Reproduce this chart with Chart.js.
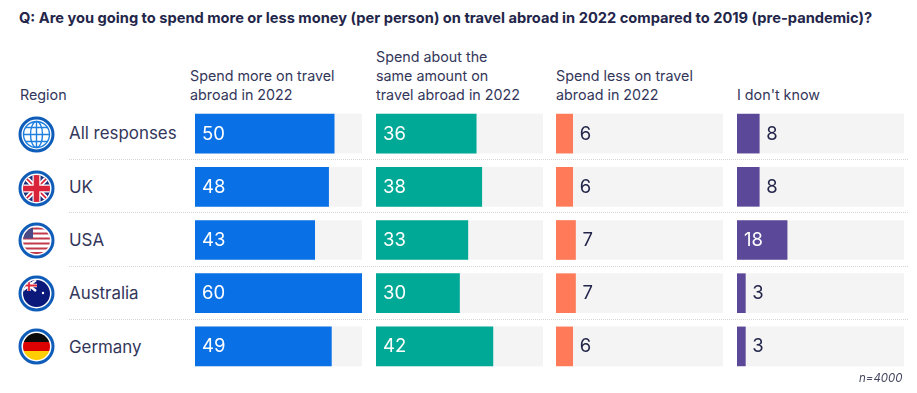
<!doctype html>
<html>
  <head>
    <meta charset="utf-8">
    <title>Travel spend 2022 vs 2019</title>
    <style>
      html, body { margin: 0; background: #fff; }
      body { width: 917px; height: 393px; position: relative; overflow: hidden;
             font-family: Inter, sans-serif; color: #23264a; }
      .t { position: absolute; white-space: nowrap; }
      #title { left: 19px; top: 10px; font-size: 14.65px; font-weight: 700; line-height: 17px; }
      .head { font-size: 14.3px; line-height: 19.2px; color: #33365a; }
      .region { left: 69px; font-size: 16.9px; line-height: 20px; color: #33365a; }
      .sep { position: absolute; left: 69px; width: 839px; border-top: 1px dotted #d5d5d5; }
      canvas { position: absolute; top: 107px; }
      svg { position: absolute; left: 18px; }
      #n { left: 859px; top: 371px; font-size: 11.5px; font-style: italic; color: #44465f; }
    </style>
    <script src="https://cdnjs.cloudflare.com/ajax/libs/Chart.js/4.4.1/chart.umd.min.js"></script>
  </head>
  <body>
    <div class="t" id="title">Q: Are you going to spend more or less money (per person) on travel abroad in 2022 compared to 2019 (pre-pandemic)?</div>

    <div class="t head" style="left:20px;top:85px">Region</div>
    <div class="t head" style="left:190px;top:66px">Spend more on travel<br>abroad in 2022</div>
    <div class="t head" style="left:376px;top:47px">Spend about the<br>same amount on<br>travel abroad in 2022</div>
    <div class="t head" style="left:556px;top:66px">Spend less on travel<br>abroad in 2022</div>
    <div class="t head" style="left:737px;top:85px">I don't know</div>

    <div class="sep" style="top:159px"></div>
    <div class="sep" style="top:212px"></div>
    <div class="sep" style="top:266px"></div>
    <div class="sep" style="top:319px"></div>

    <svg style="top:116px" width="37" height="37" viewBox="0 0 37 37">
      <circle cx="18.5" cy="18.5" r="16.5" fill="#fff" stroke="#0f5db8" stroke-width="3"/>
      <g fill="none" stroke="#1f7fe0" stroke-width="1.4">
        <circle cx="18.5" cy="18.5" r="13"/>
        <ellipse cx="18.5" cy="18.5" rx="6" ry="13"/>
        <path d="M18.5 5.5v26M5.5 18.5h26M7.5 11.5h22M7.5 25.5h22"/>
      </g>
    </svg>
    <svg style="top:169.5px" width="37" height="37" viewBox="0 0 37 37">
      <defs><clipPath id="c1"><circle cx="18.5" cy="18.5" r="13.5"/></clipPath></defs>
      <circle cx="18.5" cy="18.5" r="16.5" fill="#fff" stroke="#0f5db8" stroke-width="3"/>
      <g clip-path="url(#c1)">
        <rect width="37" height="37" fill="#1d2f7a"/>
        <path d="M3 3L34 34M34 3L3 34" stroke="#fff" stroke-width="5"/>
        <path d="M3 3L34 34M34 3L3 34" stroke="#d9233a" stroke-width="1.6"/>
        <path d="M18.5 3v31M3 18.5h31" stroke="#fff" stroke-width="8"/>
        <path d="M18.5 3v31M3 18.5h31" stroke="#d9233a" stroke-width="5.6"/>
      </g>
    </svg>
    <svg style="top:222px" width="37" height="37" viewBox="0 0 37 37">
      <defs><clipPath id="c2"><circle cx="18.5" cy="18.5" r="13.5"/></clipPath></defs>
      <circle cx="18.5" cy="18.5" r="16.5" fill="#fff" stroke="#0f5db8" stroke-width="3"/>
      <g clip-path="url(#c2)">
        <rect width="37" height="37" fill="#fff"/>
        <path d="M0 6.5h37M0 11.5h37M0 16.5h37M0 21.5h37M0 26.5h37M0 31h37" stroke="#c23a4c" stroke-width="2.2"/>
        <rect x="4" y="4" width="11" height="12.5" fill="#4a4a86"/>
      </g>
    </svg>
    <svg style="top:275px" width="37" height="37" viewBox="0 0 37 37">
      <defs><clipPath id="c3"><circle cx="18.5" cy="18.5" r="13.5"/></clipPath></defs>
      <circle cx="18.5" cy="18.5" r="16.5" fill="#fff" stroke="#0f5db8" stroke-width="3"/>
      <g clip-path="url(#c3)">
        <rect width="37" height="37" fill="#0b1a7a"/>
        <path d="M4 5L18 16M18 5L4 16" stroke="#fff" stroke-width="2.4"/>
        <path d="M4 10.5h15M11 4v12" stroke="#fff" stroke-width="3.4"/>
        <path d="M4 10.5h15M11 4v12" stroke="#e0283c" stroke-width="1.8"/>
        <circle cx="25" cy="18" r="1.2" fill="#fff"/>
      </g>
    </svg>
    <svg style="top:328px" width="37" height="37" viewBox="0 0 37 37">
      <defs><clipPath id="c4"><circle cx="18.5" cy="18.5" r="13.5"/></clipPath></defs>
      <circle cx="18.5" cy="18.5" r="16.5" fill="#fff" stroke="#0f5db8" stroke-width="3"/>
      <g clip-path="url(#c4)">
        <rect y="5" width="37" height="9" fill="#0a0a0a"/>
        <rect y="14" width="37" height="9" fill="#dd0000"/>
        <rect y="23" width="37" height="9" fill="#ffce00"/>
      </g>
    </svg>

    <div class="t region" style="top:123px">All responses</div>
    <div class="t region" style="top:177px">UK</div>
    <div class="t region" style="top:230px">USA</div>
    <div class="t region" style="top:283px">Australia</div>
    <div class="t region" style="top:337px">Germany</div>

    <canvas id="more" width="167" height="266" style="left:195px"></canvas>
    <canvas id="same" width="167" height="266" style="left:376px"></canvas>
    <canvas id="less" width="167" height="266" style="left:556px"></canvas>
    <canvas id="dunno" width="167" height="266" style="left:737px"></canvas>

    <div class="t" id="n">n=4000</div>

    <script>
      const regions = ["All responses", "UK", "USA", "Australia", "Germany"];
      const spendMore = [50, 48, 43, 60, 49];
      const spendSame = [36, 38, 33, 30, 42];
      const spendLess = [6, 6, 7, 7, 6];
      const dontKnow = [8, 8, 18, 3, 3];
      const track = [60, 60, 60, 60, 60];

      // value next to the bar, or inside it when the bar is long enough
      const valueLabels = {
        id: "valueLabels",
        afterDatasetsDraw(chart) {
          const ctx = chart.ctx;
          const bars = chart.getDatasetMeta(1).data;
          ctx.save();
          ctx.font = "18.5px Inter, sans-serif";
          ctx.textBaseline = "middle";
          bars.forEach((bar, i) => {
            const v = chart.data.datasets[1].data[i];
            if (v >= 15) {
              ctx.fillStyle = "#fff";
              ctx.fillText(v, bar.base + 7, bar.y + 0.5);
            } else {
              ctx.fillStyle = "#23264a";
              ctx.fillText(v, bar.x + 7, bar.y + 0.5);
            }
          });
          ctx.restore();
        }
      };

      function panel(id, values, color) {
        new Chart(document.getElementById(id), {
          type: "bar",
          plugins: [valueLabels],
          data: {
            labels: regions,
            datasets: [
              { data: track, backgroundColor: "#f4f4f4", barThickness: 39, order: 2, grouped: false },
              { data: values, backgroundColor: color, barThickness: 39, order: 1, grouped: false }
            ]
          },
          options: {
            indexAxis: "y",
            responsive: false,
            animation: false,
            layout: { padding: 0 },
            plugins: { legend: { display: false }, tooltip: { enabled: false } },
            scales: {
              x: { display: false, min: 0, max: 60 },
              y: { display: false }
            }
          }
        });
      }

      panel("more", spendMore, "#0a70e6");
      panel("same", spendSame, "#00a896");
      panel("less", spendLess, "#ff7a59");
      panel("dunno", dontKnow, "#5b4899");
    </script>
  </body>
</html>
